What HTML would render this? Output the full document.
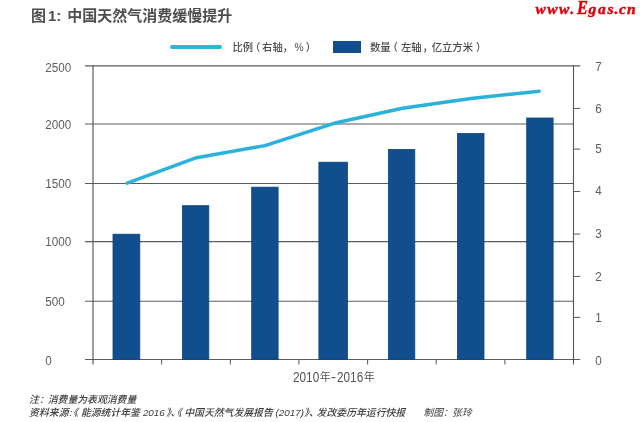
<!DOCTYPE html>
<html lang="zh-CN">
<head>
<meta charset="utf-8">
<title>图1：中国天然气消费缓慢提升</title>
<style>
  html, body { margin: 0; padding: 0; background: #ffffff; }
  body { width: 640px; height: 422px; overflow: hidden; position: relative;
         font-family: "Liberation Sans", "Noto Sans CJK SC", sans-serif; color: #555555; }
  .figure { position: absolute; left: 0; top: 0; width: 640px; height: 422px; background: #fff; filter: blur(0.35px); }
  .title { position: absolute; left: 31px; top: 5px; margin: 0; font-size: 15px; line-height: 22px;
           font-weight: bold; color: #4e4e4e; white-space: nowrap; letter-spacing: 0; }
  .title .num { margin-left: 2px; }
  .title .txt { margin-left: 6px; }
  .watermark { position: absolute; left: 530px; top: 0; width: 110px; height: 22px; font-family: "Liberation Serif", serif;
               font-style: italic; font-weight: bold; font-size: 15.5px; line-height: 22px; color: #e0000a;
               white-space: nowrap; -webkit-text-stroke: 0.45px #e0000a; }
  .watermark span { position: absolute; top: -2.5px; display: block; }
  .watermark .w1 { left: 5.6px; letter-spacing: 1.4px; }
  .watermark .w2 { left: 47.3px; font-size: 18px; top: -2.6px; transform: scaleX(0.9); transform-origin: 0 50%; }
  .watermark .w3 { left: 58.6px; letter-spacing: 1.7px; }
  .watermark .w4 { left: 84.6px; }
  .watermark .w5 { left: 88.9px; letter-spacing: 1.2px; }
  .legend { position: absolute; left: 0; top: 37px; width: 640px; height: 20px; margin: 0; padding: 0; list-style: none;
            font-size: 10.3px; line-height: 20px; font-weight: 500; color: #4c4c4c; }
  .legend li { position: absolute; top: 0; height: 20px; white-space: nowrap; }
  .legend .series-line { left: 170px; }
  .legend .series-bar { left: 333px; }
  .legend .swatch { position: absolute; left: 0; display: block; }
  .legend .series-line .swatch { top: 8px; width: 52px; height: 4px; border-radius: 2px; background: #2fb5da; }
  .legend .series-bar .swatch { top: 4px; width: 28px; height: 12px; background: #114e8e; }
  .legend .label { position: absolute; top: 1.3px; display: block; }
  .legend .series-line .label { left: 62.5px; }
  .legend .series-bar .label { left: 37px; }
  .legend .label i { font-style: normal; display: inline-block; position: relative; }
  .legend .po { left: -3px; }
  .legend .pc { left: 1px; }
  .legend .pe { left: 3px; }
  .legend .series-line .po { left: -3.2px; margin-right: -1.3px; }
  .legend .series-line .pc { left: -0.3px; }
  .legend .series-line .pct { margin-left: 1.5px; }
  .legend .series-line .pe { left: 2px; }
  svg.chart { position: absolute; left: 0; top: 0; }
  svg.chart text { font-family: "Liberation Sans", "Noto Sans CJK SC", sans-serif; font-size: 13.2px; fill: #5e5e5e; }
  .notes { position: absolute; left: 0; top: 394.6px; width: 640px; height: 24px; margin: 0; font-size: 9.85px; line-height: 12px;
           font-style: italic; font-weight: 500; color: #3c3c3c; white-space: nowrap; }
  .notes p { position: absolute; left: 0; margin: 0; width: 640px; height: 12px; }
  .notes .note { top: -0.8px; }
  .notes .source { top: 12px; }
  .notes span { position: absolute; top: 0; display: block; }
  .notes .b5, .notes .b6, .notes .b7 { color: #5c5c5c; }
  .notes .n1 { left: 29.1px; }
  .notes .n2 { left: 38.9px; }
  .notes .n3 { left: 47.7px; }
  .notes .a1 { left: 29.1px; }
  .notes .a2 { left: 69.4px; }
  .notes .a3 { left: 68.3px; }
  .notes .a4 { left: 80.9px; }
  .notes .a5 { left: 142.9px; }
  .notes .a6 { left: 166.1px; }
  .notes .a7 { left: 170.6px; }
  .notes .a8 { left: 172.1px; }
  .notes .a9 { left: 184.2px; }
  .notes .b1 { left: 275.6px; }
  .notes .b2 { left: 304.1px; }
  .notes .b3 { left: 308.9px; }
  .notes .b4 { left: 316.6px; }
  .notes .b5 { left: 423.5px; }
  .notes .b6 { left: 442.9px; }
  .notes .b7 { left: 452.1px; }
  .x-title { position: absolute; left: 293px; top: 367.6px; width: 82px; height: 20px; line-height: 20px; font-size: 11px;
             color: #555; white-space: nowrap; }
  .x-title span { position: absolute; top: 0; display: block; }
  .x-title .n { font-size: 13.8px; transform: scaleX(0.855); transform-origin: 0 50%; }
  .x-title .c { top: -0.3px; }
  .x-title .from { left: 0.3px; }
  .x-title .y1 { left: 26.8px; }
  .x-title .dash { left: 38.4px; transform: scaleX(1.1); }
  .x-title .to { left: 44.2px; }
  .x-title .y2 { left: 70.7px; }
</style>
</head>
<body>
<div class="figure">
  <h1 class="title">图<span class="num">1:</span><span class="txt">中国天然气消费缓慢提升</span></h1>
  <div class="watermark"><span class="w1">www.</span><span class="w2">E</span><span class="w3">gas</span><span class="w4">.</span><span class="w5">cn</span></div>

  <ul class="legend">
    <li class="series-line"><span class="swatch"></span><span class="label">比例<i class="po">（</i>右轴<i class="pc">，</i><i class="pct">%</i><i class="pe">）</i></span></li>
    <li class="series-bar"><span class="swatch"></span><span class="label">数量<i class="po">（</i>左轴<i class="pc">，</i>亿立方米<i class="pe">）</i></span></li>
  </ul>

  <svg class="chart" width="640" height="422" viewBox="0 0 640 422">
    <g class="grid" stroke="#5c5c5c" stroke-width="1.05">
      <line x1="85" y1="65.85" x2="580.2" y2="65.85"/>
      <line x1="85" y1="124.0" x2="573.5" y2="124.0"/>
      <line x1="85" y1="183.4" x2="573.5" y2="183.4"/>
      <line x1="85" y1="241.6" x2="573.5" y2="241.6"/>
      <line x1="85" y1="301.3" x2="573.5" y2="301.3"/>
      <line x1="85" y1="359.5" x2="580.2" y2="359.5"/>
    </g>
    <g class="bars" fill="#114e8e" stroke="#0e447f" stroke-width="0.8">
      <rect x="113.00" y="234.20" width="26.80" height="125.30"/>
      <rect x="182.40" y="205.70" width="26.40" height="153.80"/>
      <rect x="251.70" y="187.15" width="26.40" height="172.35"/>
      <rect x="318.90" y="162.20" width="28.60" height="197.30"/>
      <rect x="388.40" y="149.40" width="26.40" height="210.10"/>
      <rect x="457.40" y="133.50" width="26.60" height="226.00"/>
      <rect x="526.70" y="118.00" width="26.40" height="241.50"/>
    </g>
    <g class="axes" stroke="#5c5c5c" stroke-width="1.05">
      <line x1="93" y1="65.3" x2="93" y2="364.6" stroke-width="1.15" stroke="#555"/>
      <line x1="573.5" y1="65.3" x2="573.5" y2="364.4" stroke-width="1.1" stroke="#555"/>
      <line x1="161.6" y1="359.5" x2="161.6" y2="364.5"/>
      <line x1="230.3" y1="359.5" x2="230.3" y2="364.5"/>
      <line x1="298.9" y1="359.5" x2="298.9" y2="364.5"/>
      <line x1="367.6" y1="359.5" x2="367.6" y2="364.5"/>
      <line x1="436.2" y1="359.5" x2="436.2" y2="364.5"/>
      <line x1="504.9" y1="359.5" x2="504.9" y2="364.5"/>
      <line x1="573.5" y1="108.4" x2="580.2" y2="108.4"/>
      <line x1="573.5" y1="149.1" x2="580.2" y2="149.1"/>
      <line x1="573.5" y1="191.5" x2="580.2" y2="191.5"/>
      <line x1="573.5" y1="234.0" x2="580.2" y2="234.0"/>
      <line x1="573.5" y1="276.4" x2="580.2" y2="276.4"/>
      <line x1="573.5" y1="317.4" x2="580.2" y2="317.4"/>
    </g>
    <polyline class="ratio" fill="none" stroke="#2ab2da" stroke-width="3.5" stroke-linecap="round" stroke-linejoin="round"
      points="127.2,183.2 196.5,157.7 265,145.6 334,123.3 402.5,108.3 471,98.5 539.2,91.2"/>
    <g class="y-left">
      <text transform="translate(45.3 71.5) scale(0.885 1)">2500</text>
      <text transform="translate(45.3 128.6) scale(0.885 1)">2000</text>
      <text transform="translate(45.3 187.85) scale(0.885 1)">1500</text>
      <text transform="translate(45.3 245.7) scale(0.885 1)">1000</text>
      <text transform="translate(45.3 305.7) scale(0.885 1)">500</text>
      <text transform="translate(45.3 364.6) scale(0.885 1)">0</text>
    </g>
    <g class="y-right">
      <text transform="translate(595.3 70.7) scale(0.885 1)">7</text>
      <text transform="translate(595.3 112.5) scale(0.885 1)">6</text>
      <text transform="translate(595.3 152.8) scale(0.885 1)">5</text>
      <text transform="translate(595.3 194.6) scale(0.885 1)">4</text>
      <text transform="translate(595.3 237.6) scale(0.885 1)">3</text>
      <text transform="translate(595.3 280.5) scale(0.885 1)">2</text>
      <text transform="translate(595.3 321.6) scale(0.885 1)">1</text>
      <text transform="translate(595.3 364.5) scale(0.885 1)">0</text>
    </g>
  </svg>

  <div class="x-title"><span class="n from">2010</span><span class="c y1">年</span><span class="n dash">-</span><span class="n to">2016</span><span class="c y2">年</span></div>

  <div class="notes">
    <p class="note"><span class="n1">注</span><span class="n2">：</span><span class="n3">消费量为表观消费量</span></p>
    <p class="source"><span class="a1">资料来源</span><span class="a2">:</span><span class="a3">《</span><span class="a4">能源统计年鉴</span><span class="a5">2016</span><span class="a6">》</span><span class="a7">、</span><span class="a8">《</span><span class="a9">中国天然气发展报告</span><span class="b1">(2017)</span><span class="b2">》</span><span class="b3">、</span><span class="b4">发改委历年运行快报</span><span class="b5">制图</span><span class="b6">：</span><span class="b7">张玲</span></p>
  </div>
</div>
</body>
</html>
